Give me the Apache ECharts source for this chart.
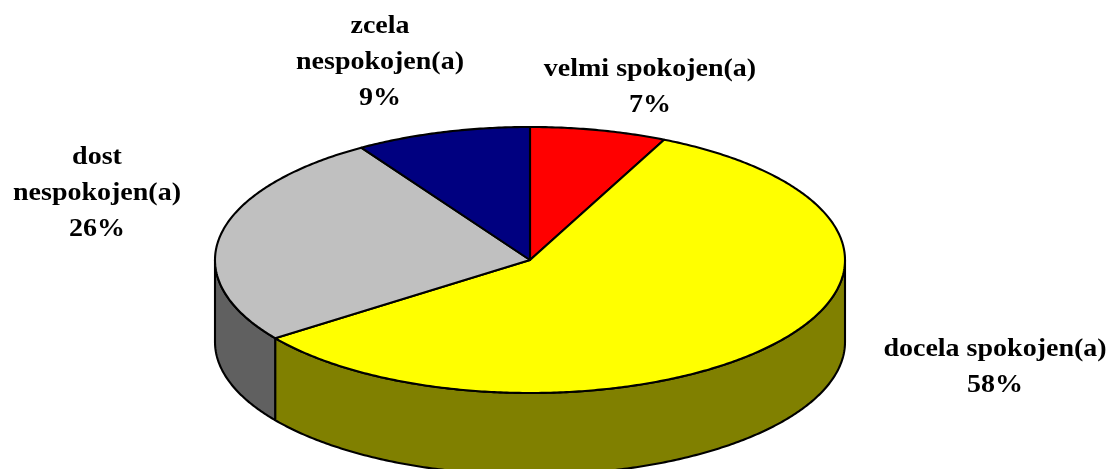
<!DOCTYPE html>
<html><head><meta charset="utf-8">
<script src="https://cdn.jsdelivr.net/npm/echarts@6/dist/echarts.min.js"></script>
<style>html,body{margin:0;padding:0;background:#fff}#c{width:1111px;height:469px}</style>
</head><body><div id="c"></div>
<script>
// ---- data ----
const categories = ['velmi spokojen(a)', 'docela spokojen(a)', 'dost\nnespokojen(a)', 'zcela\nnespokojen(a)'];
const values = [7, 58, 26, 9];
// ---- styles / layout ----
const topColors = ['#FF0000', '#FFFF00', '#C0C0C0', '#000080'];
const sideColors = ['#800000', '#808000', '#606060', '#000040'];
const labelAnchors = [[650, 88], [995, 368], [97, 194], [380, 63]];
const GEOM = { cx: 530, cy: 260, rx: 315, ry: 133, depth: 82 };

const total = values.reduce((a, b) => a + b, 0);
const starts = [];
let acc = 0;
values.forEach(v => { starts.push(acc); acc += v; });

function pt(theta, dy) {
  return [GEOM.cx + GEOM.rx * Math.sin(theta), GEOM.cy - GEOM.ry * Math.cos(theta) + (dy || 0)];
}

const chart = echarts.init(document.getElementById('c'), null, { renderer: 'canvas' });
chart.setOption({
  animation: false,
  backgroundColor: '#ffffff',
  series: [{
    type: 'custom',
    coordinateSystem: 'none',
    data: values.map((v, i) => ({ name: categories[i], value: [v] })),
    renderItem: function (params, api) {
      const i = params.dataIndex;
      const v = api.value(0);
      const a0 = starts[i] / total * 2 * Math.PI;
      const a1 = (starts[i] + v) / total * 2 * Math.PI;
      const children = [];
      const stroke = { stroke: '#000', lineWidth: 2.1, lineJoin: 'round' };
      // side (front half only)
      const s = Math.max(a0, Math.PI / 2), e = Math.min(a1, 1.5 * Math.PI);
      if (e > s) {
        const n = Math.max(2, Math.ceil((e - s) / 0.01));
        const pts = [];
        for (let k = 0; k <= n; k++) pts.push(pt(s + (e - s) * k / n));
        for (let k = n; k >= 0; k--) pts.push(pt(s + (e - s) * k / n, GEOM.depth));
        children.push({ type: 'polygon', shape: { points: pts }, style: Object.assign({ fill: sideColors[i] }, stroke) });
      }
      // top face
      const n2 = Math.max(2, Math.ceil((a1 - a0) / 0.01));
      const tp = [[GEOM.cx, GEOM.cy]];
      for (let k = 0; k <= n2; k++) tp.push(pt(a0 + (a1 - a0) * k / n2));
      children.push({ type: 'polygon', shape: { points: tp }, style: Object.assign({ fill: topColors[i] }, stroke) });
      // label
      const pct = Math.round(v / total * 100);
      children.push({
        type: 'text', x: labelAnchors[i][0], y: labelAnchors[i][1], scaleX: 1.12, scaleY: 1,
        style: {
          text: categories[i] + '\n' + pct + '%',
          fontFamily: 'Liberation Serif', fontWeight: 'bold', fontSize: 25, lineHeight: 36,
          fill: '#000', align: 'center', verticalAlign: 'middle'
        }
      });
      return { type: 'group', children: children };
    }
  }]
});
</script>
</body></html>
